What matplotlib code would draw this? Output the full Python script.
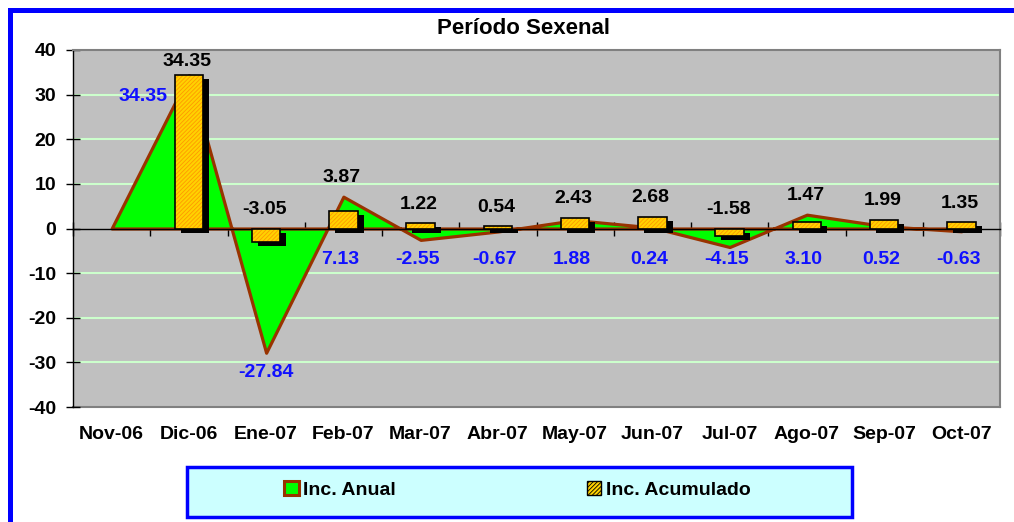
import numpy as np
import matplotlib
matplotlib.use("Agg")
import matplotlib.pyplot as plt
from matplotlib.patches import Rectangle, Patch
from matplotlib.transforms import offset_copy

plt.rcParams['font.family'] = ['Liberation Sans', 'DejaVu Sans']
plt.rcParams['font.weight'] = 'bold'
plt.rcParams['axes.unicode_minus'] = False
plt.rcParams['hatch.linewidth'] = 0.6

# === Data ===
months = ["Nov-06", "Dic-06", "Ene-07", "Feb-07", "Mar-07", "Abr-07",
          "May-07", "Jun-07", "Jul-07", "Ago-07", "Sep-07", "Oct-07"]
inc_anual = [0.0, 34.35, -27.84, 7.13, -2.55, -0.67, 1.88, 0.24, -4.15, 3.10, 0.52, -0.63]
inc_acumulado = [np.nan, 34.35, -3.05, 3.87, 1.22, 0.54, 2.43, 2.68, -1.58, 1.47, 1.99, 1.35]

W, H = 1014, 522
fig = plt.figure(figsize=(W / 100, H / 100), dpi=100)
ax = fig.add_axes([73 / W, 115 / H, 927 / W, 357 / H])
ax.set_facecolor("#C0C0C0")

x = np.arange(len(months))

# area series (Inc. Anual)
ax.fill_between(x, inc_anual, 0, facecolor="#00FF00", edgecolor="#993300",
                linewidth=2.3, zorder=2)

# bars (Inc. Acumulado) with shadow
shadow = ax.bar(x, inc_acumulado, width=0.37, color="black", linewidth=0, zorder=2.8)
tr = offset_copy(ax.transData, fig=fig, x=6, y=-4, units="dots")
for p in shadow:
    p.set_transform(tr)
ax.bar(x, inc_acumulado, width=0.37, facecolor="#FFD200", edgecolor="#FF9900",
       hatch="////////", linewidth=0, zorder=3)
ax.bar(x, inc_acumulado, width=0.37, fill=False, edgecolor="black",
       linewidth=1.2, zorder=3.1)

# labels
for i, v in enumerate(inc_anual):
    if i == 0:
        continue
    if v > 10:
        lx, ly = i - 0.6, v - 4.8
    elif v < -10:
        lx, ly = i, v - 4.5
    else:
        lx, ly = i - 0.04, -7
    ax.text(lx, ly, f"{v:.2f}", color="#1010FF", fontsize=14, fontweight="bold",
            ha="center", va="center", zorder=5)

for i, v in enumerate(inc_acumulado):
    if np.isnan(v):
        continue
    top = max(v, inc_anual[i], 0)
    ly = top + (3 if top > 10 else 4.2)
    ax.text(i - 0.02, ly, f"{v:.2f}", color="black", fontsize=14, fontweight="bold",
            ha="center", va="center", zorder=5)

# axes
ax.set_xlim(-0.5, len(months) - 0.5)
ax.set_ylim(-40, 40)
ax.set_yticks(np.arange(-40, 41, 10))
ax.tick_params(axis="y", direction="inout", length=10, width=1, pad=7, labelsize=14)
for t in ax.get_yticklabels():
    t.set_fontweight("bold")

for yv in [-30, -20, -10, 10, 20, 30]:
    ax.axhline(yv, color="#CCFFCC", linewidth=1.5, zorder=1)

ax.spines["bottom"].set_position(("data", 0))
ax.spines["bottom"].set_color("black")
ax.spines["bottom"].set_linewidth(1)
ax.spines["bottom"].set_zorder(2.5)
ax.set_xticks(np.arange(-0.5, len(months), 1))
ax.tick_params(axis="x", direction="inout", length=9.5, width=1, labelbottom=False)
ax.spines["left"].set_color("black")
ax.spines["left"].set_linewidth(1)
for s in ["top", "right"]:
    ax.spines[s].set_color("#808080")
    ax.spines[s].set_linewidth(1.5)

sec = ax.secondary_xaxis(0)
sec.set_xticks(x)
sec.set_xticklabels(months, fontsize=14, fontweight="bold")
sec.tick_params(length=0, pad=14)
sec.spines["bottom"].set_color("#808080")
sec.spines["bottom"].set_linewidth(1.5)

# title
fig.text(523.5 / W, 1 - 29 / H, "Período Sexenal", ha="center", va="center",
         fontsize=16, fontweight="bold")

# legend box
fig.patches.append(Rectangle((187 / W, 5 / H), 665 / W, 50 / H, transform=fig.transFigure,
                             facecolor="#CCFFFF", edgecolor="#0000FF", linewidth=2.5,
                             zorder=0))
handles = [Patch(facecolor="#00FF00", edgecolor="#993300", linewidth=2.2),
           Patch(facecolor="#FFD200", edgecolor="black", linewidth=1, hatch="////////")]
fig.legend(handles, ["Inc. Anual", "Inc. Acumulado"], loc="center left",
           bbox_to_anchor=(284 / W, 1 - 490 / H), ncol=2, frameon=False,
           borderpad=0, borderaxespad=0, handlelength=0.75, handleheight=0.75,
           handletextpad=0.25, columnspacing=9.8,
           prop={"size": 14, "weight": "bold"})

# outer blue frame (cut off at right and bottom)
fig.patches.append(Rectangle((9.5 / W, -0.1), 1.2, 1 - 9.5 / H + 0.1,
                             transform=fig.transFigure, fill=False,
                             edgecolor="#0000FF", linewidth=3.6, zorder=10))

fig.savefig("out.png", dpi=100)
